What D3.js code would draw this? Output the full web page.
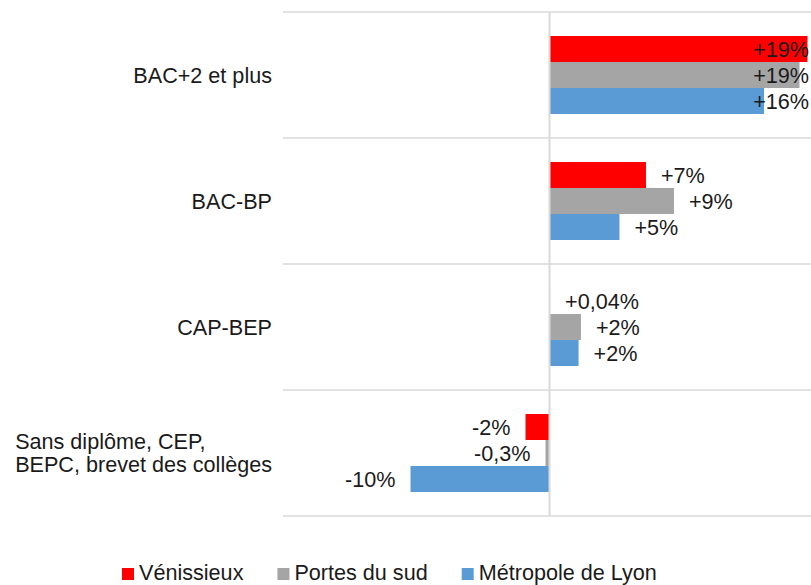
<!DOCTYPE html>
<html lang="fr">
<head>
    <meta charset="UTF-8">
    <title>Diplômes</title>
    <script src="https://cdn.jsdelivr.net/npm/d3@7"></script>
    <style type="text/css">
        body{ margin:0; background:#fff; }
        text{ font-family:"Liberation Sans", Arial, sans-serif; fill:#1a1a1a; }
    </style>
</head>
<body>
<svg width="811" height="585"></svg>
<script type="text/javascript">

    // données
    var categories = ["BAC+2 et plus", "BAC-BP", "CAP-BEP", "Sans diplôme, CEP,\nBEPC, brevet des collèges"];
    var series = ["Vénissieux", "Portes du sud", "Métropole de Lyon"];
    var colors = ["#ff0000", "#a5a5a5", "#5b9bd5"];
    var venissieux = [19.36, 7.24, 0.04, -1.8];
    var portes = [18.76, 9.34, 2.36, -0.3];
    var metropole = [16.1, 5.25, 2.18, -10.43];
    var labels_venissieux = ["+19%", "+7%", "+0,04%", "-2%"];
    var labels_portes = ["+19%", "+9%", "+2%", "-0,3%"];
    var labels_metropole = ["+16%", "+5%", "+2%", "-10%"];
    var xDomain = [-20, 20];

    var values = [venissieux, portes, metropole];
    var labels = [labels_venissieux, labels_portes, labels_metropole];

    var rows = [];
    for (var s = 0; s < series.length; s++) {
        for (var c = 0; c < categories.length; c++) {
            rows.push({cat: categories[c], serie: series[s], s: s, v: values[s][c], label: labels[s][c]});
        }
    }

    var svg = d3.select("svg");
    var fontSize = 21.6;

    var x = d3.scaleLinear().domain(xDomain).range([283, 816]);
    var y = d3.scaleBand().domain(categories).range([12, 516]);
    var yIn = d3.scaleBand().domain(series).range([24, 102]);

    // quadrillage horizontal
    var grid = svg.append("g");
    var lines = y.domain().map(function (d) { return y(d); }).concat([516]);
    grid.selectAll("line.h")
        .data(lines)
        .enter()
        .append("line")
        .attr("x1", 283).attr("x2", 811)
        .attr("y1", function (d) { return d; })
        .attr("y2", function (d) { return d; })
        .style("stroke", "#d9d9d9")
        .style("stroke-width", 1.5);

    // barres
    svg.append("g")
        .selectAll("rect")
        .data(rows)
        .enter()
        .append("rect")
        .attr("x", function (d) { return Math.min(x(d.v), x(0)); })
        .attr("width", function (d) { return Math.abs(x(d.v) - x(0)); })
        .attr("y", function (d) { return y(d.cat) + yIn(d.serie); })
        .attr("height", yIn.bandwidth())
        .attr("fill", function (d) { return colors[d.s]; });

    // axe vertical (zéro)
    svg.append("line")
        .attr("x1", x(0)).attr("x2", x(0))
        .attr("y1", 12).attr("y2", 516)
        .style("stroke", "#d9d9d9")
        .style("stroke-width", 2);

    // étiquettes de valeurs
    svg.append("g")
        .selectAll("text")
        .data(rows)
        .enter()
        .append("text")
        .attr("y", function (d) { return y(d.cat) + yIn(d.serie) + yIn.bandwidth() / 2; })
        .attr("dy", "0.38em")
        .style("font-size", fontSize + "px")
        .text(function (d) { return d.label; })
        .each(function (d) {
            var t = d3.select(this);
            var w = this.getComputedTextLength();
            if (d.v >= 0) {
                var px = x(d.v) + 15;
                if (px + w > 809) px = 809 - w;
                t.attr("x", px).attr("text-anchor", "start");
            } else {
                t.attr("x", x(d.v) - 15).attr("text-anchor", "end");
            }
        });

    // libellés des catégories
    var catG = svg.append("g");
    categories.forEach(function (c) {
        var parts = c.split("\n");
        var g = catG.append("g");
        var cy = y(c) + y.bandwidth() / 2;
        var lh = 23;
        var texts = parts.map(function (p, i) {
            return g.append("text")
                .attr("y", cy + (i - (parts.length - 1) / 2) * lh)
                .attr("dy", "0.35em")
                .style("font-size", fontSize + "px")
                .text(p);
        });
        var maxW = d3.max(texts, function (t) { return t.node().getComputedTextLength(); });
        texts.forEach(function (t) { t.attr("x", 272 - maxW); });
    });

    // légende
    var legend = svg.append("g");
    var lx = 122;
    series.forEach(function (s, i) {
        legend.append("rect")
            .attr("x", lx).attr("y", 568)
            .attr("width", 12).attr("height", 12)
            .attr("fill", colors[i]);
        var t = legend.append("text")
            .attr("x", lx + 17).attr("y", 580)
            .style("font-size", fontSize + "px")
            .text(s);
        lx = lx + 17 + t.node().getComputedTextLength() + 34;
    });

</script>
</body>
</html>
